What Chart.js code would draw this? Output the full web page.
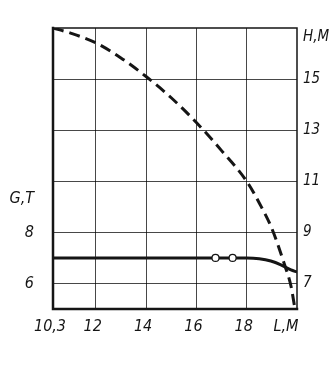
<!DOCTYPE html>
<html>
<head>
<meta charset="utf-8">
<script src="https://cdn.jsdelivr.net/npm/chart.js@4/dist/chart.umd.min.js"></script>
<style>
html,body{margin:0;padding:0;background:#fff;}
#wrap{width:330px;height:366px;position:relative;}
</style>
</head>
<body>
<div id="wrap"><canvas id="c"></canvas></div>
<script>
// Dashed curve: height H (m) vs length L (m)
const lengthH = [10.3, 11, 12, 13, 14, 15, 16, 17, 18, 18.5, 19, 19.5, 19.76, 19.92];
const heightH = [17.0, 16.8, 16.42, 15.83, 15.1, 14.27, 13.3, 12.2, 11.0, 10.15, 9.15, 7.75, 6.9, 6.0];
// Solid curve: load G (t) vs length L (m)
const lengthG = [10.3, 12, 14, 16, 18, 18.5, 18.96, 19.36, 19.76, 20];
const loadG = [7.0, 7.0, 7.0, 7.0, 7.0, 6.97, 6.88, 6.73, 6.53, 6.45];
// Open circle markers
const markL = [16.76, 17.44];
const markG = [7.0, 7.0];
// Tick labels
const xTicks = [10.3, 12, 14, 16, 18, 19.68];
const xLabels = ['10,3', '12', '14', '16', '18', 'L,M'];
const gTicks = [6, 8, 9.3];
const gLabels = ['6', '8', 'G,T'];
const hTicks = [7, 9, 11, 13, 15, 16.65];
const hLabels = ['7', '9', '11', '13', '15', 'H,M'];

const ink = '#151515';
const fam = "'DejaVu Sans Condensed','Liberation Sans',sans-serif";
const font = {family: fam, style: 'italic', size: 16};

function pts(xs, ys){ return xs.map((x,i)=>({x:x, y:ys[i]})); }

const framePlugin = {
  id: 'frame',
  afterDatasetsDraw(chart){
    const a = chart.chartArea, c = chart.ctx;
    c.save();
    c.strokeStyle = ink;
    c.lineCap = 'square';
    c.lineWidth = 1.5;
    c.beginPath(); c.moveTo(a.left, a.top); c.lineTo(a.right, a.top); c.lineTo(a.right, a.bottom); c.stroke();
    c.lineWidth = 2.5;
    c.beginPath(); c.moveTo(a.left, a.top); c.lineTo(a.left, a.bottom); c.lineTo(a.right, a.bottom); c.stroke();
    c.restore();
  }
};

new Chart(document.getElementById('c'), {
  type: 'scatter',
  data: {
    datasets: [
      {data: pts(markL, markG), yAxisID: 'yG', showLine: false, pointRadius: 3.5, pointBackgroundColor: '#fff', pointBorderColor: ink, pointBorderWidth: 1.2, order: 0},
      {data: pts(lengthG, loadG), yAxisID: 'yG', showLine: true, borderColor: ink, borderWidth: 3, pointRadius: 0, cubicInterpolationMode: 'monotone', order: 1},
      {data: pts(lengthH, heightH), yAxisID: 'yH', showLine: true, borderColor: ink, borderWidth: 3, borderDash: [11, 6], pointRadius: 0, cubicInterpolationMode: 'monotone', order: 2}
    ]
  },
  options: {
    responsive: true,
    maintainAspectRatio: false,
    animation: false,
    layout: {padding: {top: 28, left: 0, right: 0, bottom: 0}},
    plugins: {legend: {display: false}, tooltip: {enabled: false}},
    scales: {
      x: {
        type: 'linear', min: 10.3, max: 20,
        afterFit(s){ s.height = 57; },
        afterBuildTicks(s){ s.ticks = xTicks.map(v=>({value:v})); },
        ticks: {
          color: ink, font: font, padding: 8, labelOffset: -3, maxRotation: 0, autoSkip: false,
          callback(v){ const i = xTicks.indexOf(v); return i >= 0 ? xLabels[i] : ''; }
        },
        grid: {
          drawTicks: false,
          color(ctx){ const v = ctx.tick && ctx.tick.value; return (v === 19.68) ? 'rgba(0,0,0,0)' : 'rgba(0,0,0,0.72)'; },
          lineWidth: 1
        },
        border: {display: false}
      },
      yG: {
        type: 'linear', position: 'left', min: 5, max: 16,
        afterFit(s){ s.width = 53; },
        afterBuildTicks(s){ s.ticks = gTicks.map(v=>({value:v})); },
        ticks: {
          color: ink, font: font, padding: 11, autoSkip: false,
          callback(v){ const i = gTicks.indexOf(v); return i >= 0 ? gLabels[i] : ''; }
        },
        grid: {display: false},
        border: {display: false}
      },
      yH: {
        type: 'linear', position: 'right', min: 6, max: 17,
        afterFit(s){ s.width = 33; },
        afterBuildTicks(s){ s.ticks = hTicks.map(v=>({value:v})); },
        ticks: {
          color: ink, font: Object.assign({}, font, {size: 15}), padding: 6, autoSkip: false,
          callback(v){ const i = hTicks.indexOf(v); return i >= 0 ? hLabels[i] : ''; }
        },
        grid: {
          drawTicks: false,
          color(ctx){ const v = ctx.tick && ctx.tick.value; return (v === 16.65) ? 'rgba(0,0,0,0)' : 'rgba(0,0,0,0.72)'; },
          lineWidth: 1
        },
        border: {display: false}
      }
    }
  },
  plugins: [framePlugin]
});
</script>
</body>
</html>
